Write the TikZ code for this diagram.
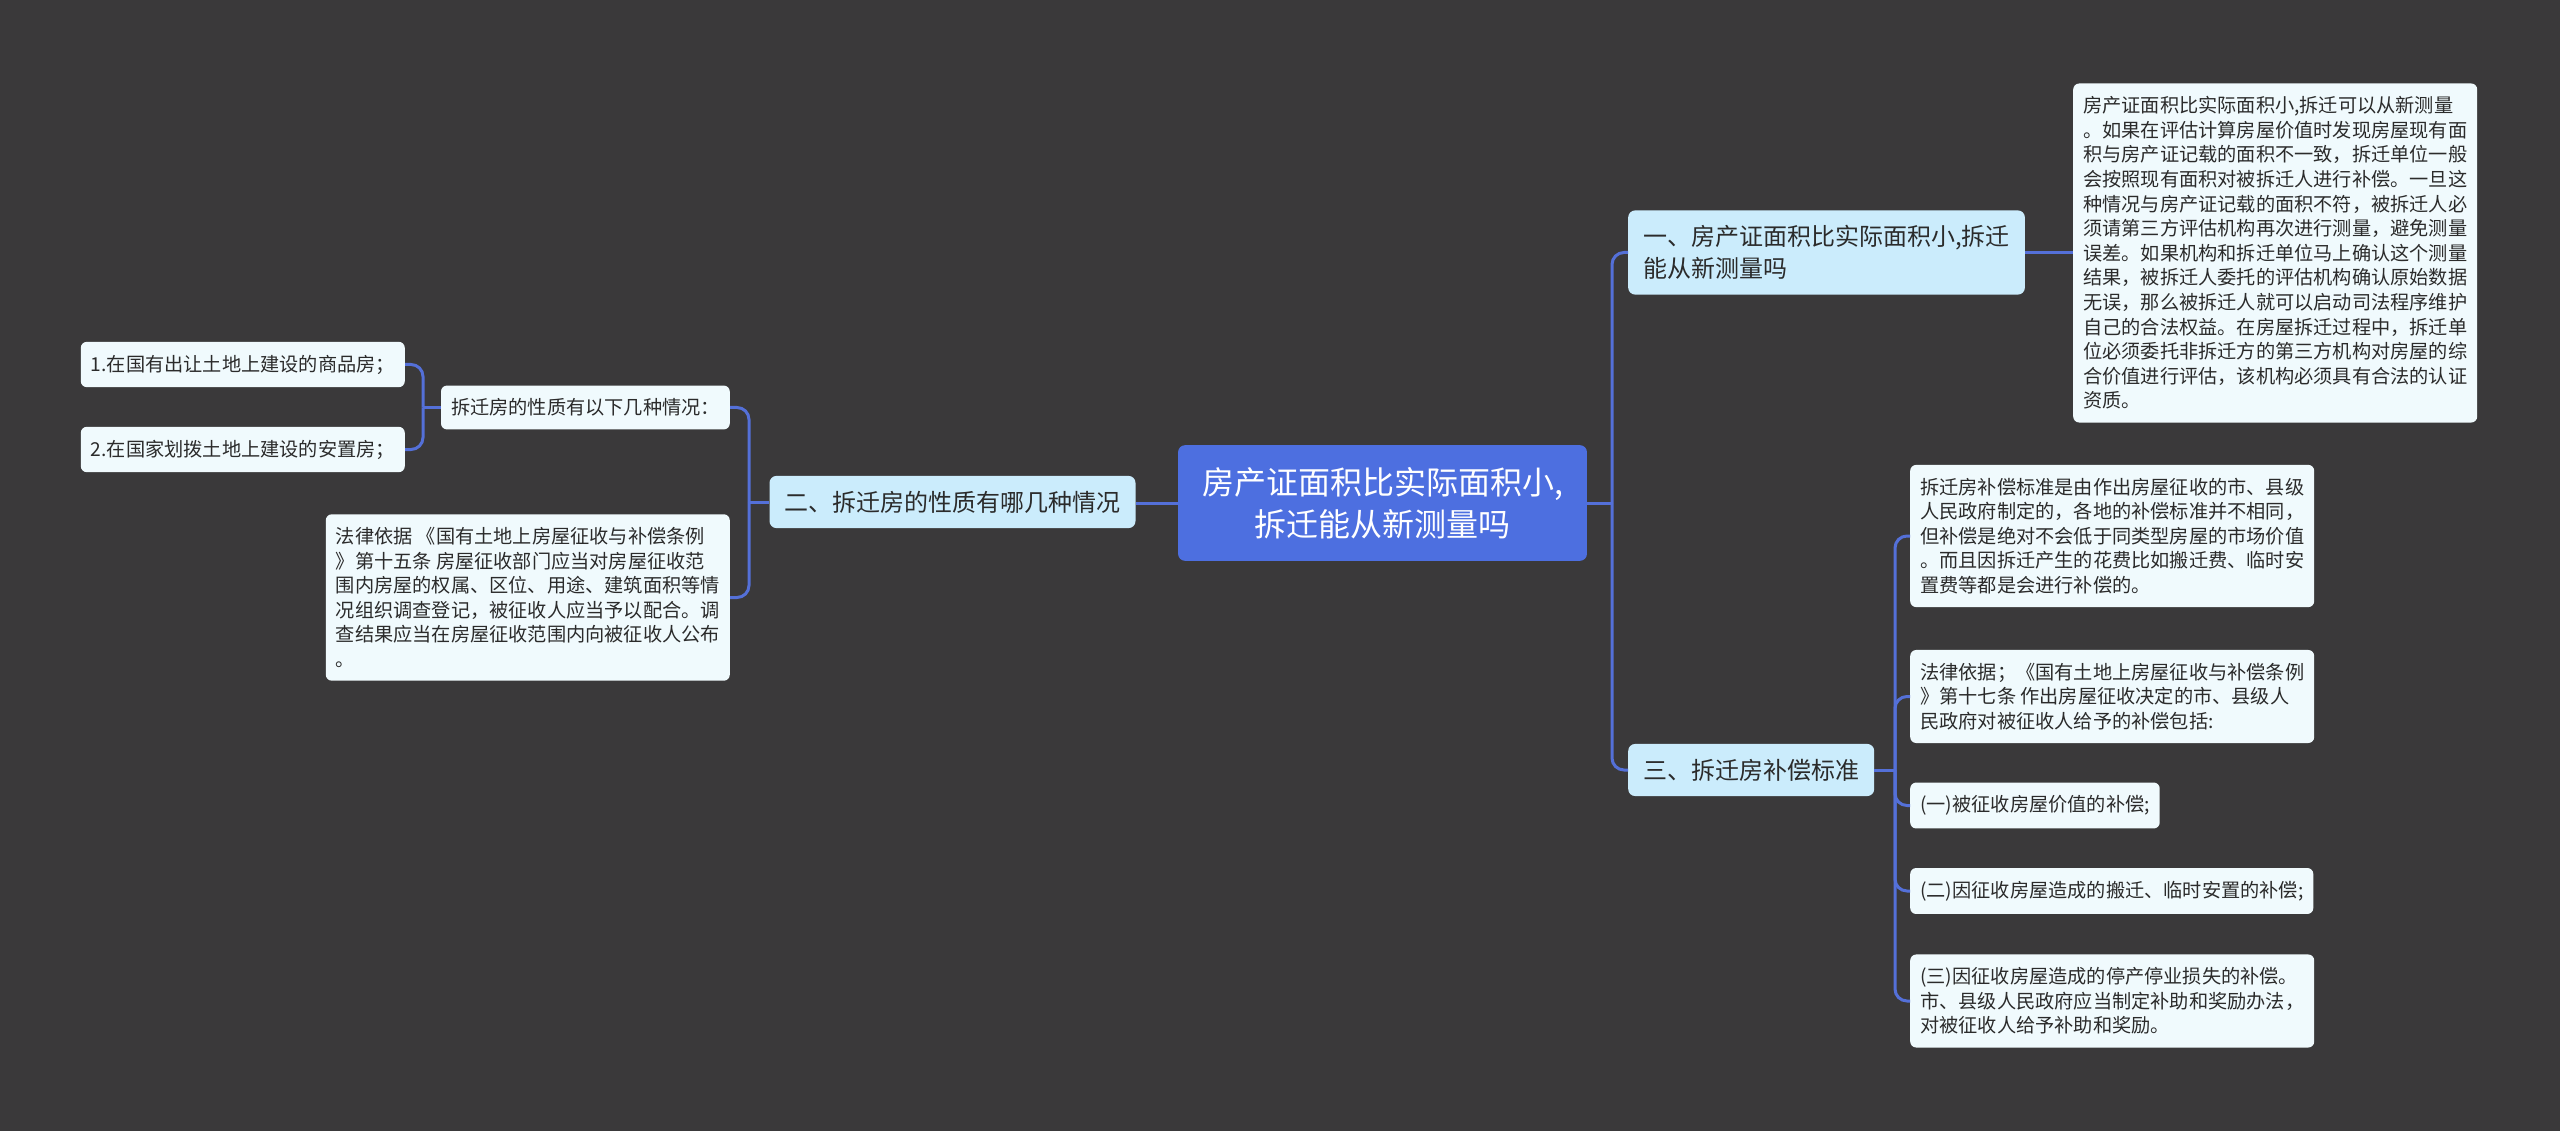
\documentclass[tikz,border=0pt]{standalone}
\usepackage{fontspec}
\setmainfont{Noto Sans CJK SC}
\usetikzlibrary{calc}
\definecolor{bgcol}{HTML}{3A393A}
\definecolor{rootblue}{HTML}{4D6FE0}
\definecolor{topicblue}{HTML}{CBECFC}
\definecolor{leafwhite}{HTML}{F0FAFD}
\definecolor{linkblue}{HTML}{5470D8}
\definecolor{textgray}{HTML}{2B2B2B}
\tikzset{
  rootbox/.style={fill=rootblue, text=white, rounded corners=7pt, inner xsep=24pt, inner ysep=22pt, align=center, font=\fontsize{32}{42}\selectfont},
  topicbox/.style={fill=topicblue, text=textgray, rounded corners=7pt, inner xsep=15pt, inner ysep=15pt, align=left, font=\fontsize{24}{32}\selectfont},
  leafbox/.style={fill=leafwhite, text=textgray, rounded corners=6pt, inner xsep=10pt, inner ysep=13pt, align=left, font=\fontsize{19.2}{24.6}\selectfont},
  link/.style={draw=linkblue, line width=3pt, rounded corners=12pt},
}
\begin{document}
\begin{tikzpicture}[x=1pt, y=-1pt]
        \fill[bgcol] (0,0) rectangle (2560,1131);
        \useasboundingbox (0,0) rectangle (2560,1131);

        \node[rootbox] (root) at (1382.5,503) {房产证面积比实际面积小,\\拆迁能从新测量吗};

        % 右侧
        \node[topicbox, anchor=west] (n1) at (1628,252.5) {一、房产证面积比实际面积小,拆迁\\能从新测量吗};
        \node[leafbox, anchor=west] (t1) at (2073,253) {房产证面积比实际面积小,拆迁可以从新测量\\。如果在评估计算房屋价值时发现房屋现有面\\积与房产证记载的面积不一致，拆迁单位一般\\会按照现有面积对被拆迁人进行补偿。一旦这\\种情况与房产证记载的面积不符，被拆迁人必\\须请第三方评估机构再次进行测量，避免测量\\误差。如果机构和拆迁单位马上确认这个测量\\结果，被拆迁人委托的评估机构确认原始数据\\无误，那么被拆迁人就可以启动司法程序维护\\自己的合法权益。在房屋拆迁过程中，拆迁单\\位必须委托非拆迁方的第三方机构对房屋的综\\合价值进行评估，该机构必须具有合法的认证\\资质。};

        \node[topicbox, anchor=west] (n3) at (1628,770) {三、拆迁房补偿标准};
        \node[leafbox, anchor=west] (c1) at (1910,536) {拆迁房补偿标准是由作出房屋征收的市、县级\\人民政府制定的，各地的补偿标准并不相同，\\但补偿是绝对不会低于同类型房屋的市场价值\\。而且因拆迁产生的花费比如搬迁费、临时安\\置费等都是会进行补偿的。};
        \node[leafbox, anchor=west] (c2) at (1910,696.5) {法律依据；《国有土地上房屋征收与补偿条例\\》第十七条 作出房屋征收决定的市、县级人\\民政府对被征收人给予的补偿包括:};
        \node[leafbox, anchor=west] (c3) at (1910,805.5) {(一)被征收房屋价值的补偿;};
        \node[leafbox, anchor=west] (c4) at (1910,891) {(二)因征收房屋造成的搬迁、临时安置的补偿;};
        \node[leafbox, anchor=west] (c5) at (1910,1001) {(三)因征收房屋造成的停产停业损失的补偿。\\市、县级人民政府应当制定补助和奖励办法，\\对被征收人给予补助和奖励。};

        % 左侧
        \node[topicbox] (n2) at (952.5,502) {二、拆迁房的性质有哪几种情况};
        \node[leafbox, anchor=east] (l1) at (730,407.5) {拆迁房的性质有以下几种情况：};
        \node[leafbox, anchor=east] (l2) at (730,597.5) {法律依据 《国有土地上房屋征收与补偿条例\\》第十五条 房屋征收部门应当对房屋征收范\\围内房屋的权属、区位、用途、建筑面积等情\\况组织调查登记，被征收人应当予以配合。调\\查结果应当在房屋征收范围内向被征收人公布\\。};
        \node[leafbox, anchor=east] (l3) at (405,364.5) {1.在国有出让土地上建设的商品房；};
        \node[leafbox, anchor=east] (l4) at (405,449.5) {2.在国家划拨土地上建设的安置房；};

        \coordinate (rt) at (1612,503);
        \coordinate (ct) at (1895,770);
        \coordinate (lt) at (749,502);
        \coordinate (st) at (423,407.5);

        \draw[link] (root.east) -- (rt);
        \draw[link] (rt) |- (n1.west);
        \draw[link] (rt) |- (n3.west);
        \draw[link] (n1.east) -- (n1.east -| t1.west);

        \draw[link] (n3.east) -- (ct);
        \foreach \c in {c1,c2,c3,c4,c5}
            \draw[link] (ct) |- (\c.west);

        \draw[link] (root.west) -- (root.west -| n2.east);
        \draw[link] (n2.west) -- (lt);
        \draw[link] (lt) |- (l1.east);
        \draw[link] (lt) |- (l2.east);

        \draw[link] (l1.west) -- (st);
        \draw[link] (st) |- (l3.east);
        \draw[link] (st) |- (l4.east);
    \end{tikzpicture}
\end{document}
